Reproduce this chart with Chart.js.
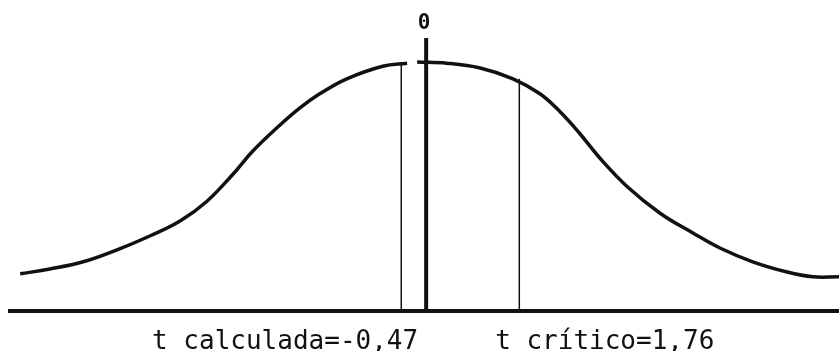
<!DOCTYPE html>
<html>
<head>
<meta charset="utf-8">
<style>
  html, body { margin: 0; padding: 0; background: #ffffff; }
  #wrap { width: 839px; height: 351px; }
</style>
<script src="https://cdn.jsdelivr.net/npm/chart.js@4/dist/chart.umd.min.js"></script>
</head>
<body>
<div id="wrap"><canvas id="c" width="839" height="351"></canvas></div>
<script>
// Bell curve of the t distribution (hand-drawn shape), x in t units
const curveT = [-7.67, -7.11, -6.48, -5.84, -5.22, -4.65, -4.14, -3.65, -3.27, -2.76, -2.39, -2.01, -1.50, -0.82, -0.36, -0.27, -0.17, 0.39, 1.02, 1.64, 2.15, 2.53, 2.91, 3.28, 3.79, 4.42, 5.04, 5.55, 6.17, 6.82, 7.31, 7.80];
const curveDensity = [0.062, 0.070, 0.082, 0.102, 0.125, 0.150, 0.183, 0.228, 0.267, 0.310, 0.338, 0.362, 0.387, 0.408, 0.413, null, 0.415, 0.413, 0.405, 0.387, 0.362, 0.332, 0.295, 0.255, 0.208, 0.163, 0.130, 0.105, 0.082, 0.065, 0.057, 0.057];

// Marked t values and how high each vertical line reaches
const tCalculada = -0.47;
const tCritico = 1.76;
const tCenter = 0;
const calculadaTop = 0.41;
const criticoTop = 0.387;
const centerTop = 0.455;

// Axis range
const xMin = -7.9;
const xMax = 7.8;
const yMax = 0.5;

// Texts
const labelCalculada = 't calculada=-0,47';
const labelCritico = 't crítico=1,76';
const labelCenter = '0';

const ink = '#111111';

const curvePoints = curveT.map((t, i) => ({ x: t, y: curveDensity[i] }));
const vLine = (t, top) => [{ x: t, y: 0 }, { x: t, y: top }];

const annotate = {
  id: 'annotate',
  afterDraw(chart) {
    const { ctx, scales } = chart;
    const x0 = scales.x.getPixelForValue(tCenter);
    const yTop = scales.y.getPixelForValue(centerTop);
    ctx.save();
    ctx.fillStyle = ink;
    ctx.textBaseline = 'alphabetic';

    ctx.font = 'bold 21px "DejaVu Sans Mono"';
    ctx.textAlign = 'center';
    ctx.fillText(labelCenter, x0 - 2, yTop - 9);

    ctx.font = '26px "DejaVu Sans Mono"';
    ctx.textAlign = 'right';
    ctx.fillText(labelCalculada, x0 - 8, 349);
    ctx.textAlign = 'left';
    ctx.fillText(labelCritico, x0 + 69, 349);
    ctx.restore();
  }
};

new Chart(document.getElementById('c'), {
  type: 'line',
  data: {
    datasets: [
      {
        data: curvePoints,
        borderColor: ink,
        borderWidth: 3.5,
        tension: 0.4,
        spanGaps: false,
        clip: false
      },
      {
        data: [{ x: xMin, y: 0 }, { x: xMax, y: 0 }],
        borderColor: ink,
        borderWidth: 4,
        clip: false
      },
      {
        data: vLine(tCalculada, calculadaTop),
        borderColor: ink,
        borderWidth: 1.5,
        clip: false
      },
      {
        data: vLine(tCenter, centerTop),
        borderColor: ink,
        borderWidth: 4,
        clip: false
      },
      {
        data: vLine(tCritico, criticoTop),
        borderColor: ink,
        borderWidth: 1.5,
        clip: false
      }
    ]
  },
  options: {
    responsive: false,
    animation: false,
    layout: { padding: { left: 8, right: 0, top: 11, bottom: 40 } },
    elements: { point: { radius: 0, hoverRadius: 0 }, line: { fill: false } },
    plugins: { legend: { display: false }, tooltip: { enabled: false } },
    scales: {
      x: { type: 'linear', min: xMin, max: xMax, display: false },
      y: { type: 'linear', min: 0, max: yMax, display: false }
    }
  },
  plugins: [annotate]
});
</script>
</body>
</html>
